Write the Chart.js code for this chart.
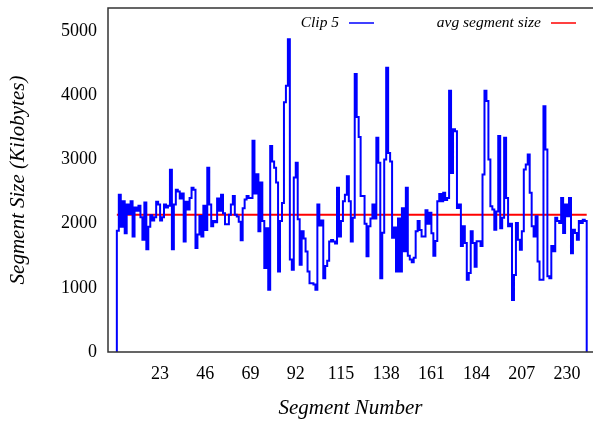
<!DOCTYPE html>
<html>
<head>
<meta charset="utf-8">
<script src="https://cdn.jsdelivr.net/npm/chart.js@4/dist/chart.umd.min.js"></script>
<style>
  html, body { margin: 0; padding: 0; overflow: hidden; background: #fff; }
</style>
</head>
<body>
<canvas id="segChart" width="593" height="424"></canvas>
<script>
// segment sizes (KB) for segments 1..239
const segmentSizes = [
    1890, 2450, 1950, 2350, 1850, 2300, 2150, 2350, 1800, 2250,
    2200, 2280, 2100, 1750, 2330, 1600, 1950, 2130, 2050, 2100,
    2340, 2300, 2050, 2100, 2300, 2250, 2280, 2840, 1600, 2300,
    2530, 2500, 2390, 2470, 1720, 2340, 2220, 2400, 2560, 2530,
    1620, 1830, 2120, 1800, 2280, 1900, 2870, 2300, 1960, 2040,
    2020, 2390, 2200, 2450, 2160, 1990, 1990, 2140, 2300, 2430,
    2140, 2110, 2030, 1740, 2240, 2375, 2430, 2400, 2400, 3290,
    2470, 2770, 1880, 2640, 2040, 1310, 1930, 970, 3210, 2970,
    2870, 2640, 1255, 2040, 2320, 3890, 4150, 4875, 1440, 1280,
    2720, 2950, 2070, 1360, 1880, 1770, 1565, 1255, 1070, 1070,
    1050, 970, 2300, 1970, 2050, 1150, 1340, 1420, 1720, 1745,
    1720, 1690, 2560, 1800, 2040, 2350, 2450, 2740, 2350, 1720,
    2090, 4330, 3660, 3350, 2430, 2430, 2000, 1490, 1960, 2080,
    2300, 2080, 3340, 2950, 1150, 1860, 3000, 4430, 3100, 2970,
    1780, 1940, 1255, 2080, 1255, 2240, 1570, 2560, 1500, 1440,
    1400, 1470, 1880, 2040, 1900, 1800, 1800, 2210, 2000, 2170,
    1850, 1500, 1730, 2350, 2460, 2350, 2480, 2370, 2400, 4070,
    2790, 3470, 3440, 2245, 2300, 1650, 1960, 1700, 1125, 1230,
    1880, 1700, 1330, 1725, 1725, 1650, 2765, 4070, 3910, 3000,
    2270, 2220, 1906, 2190, 3365, 1930, 2090, 3340, 2400, 1960,
    2000, 810, 1200, 2010, 1750, 1594, 1880, 2844, 2920, 3078,
    2480, 1960, 1800, 2115, 1412, 1125, 1125, 3830, 3156, 1180,
    1150, 1650, 1570, 2090, 2040, 2010, 2400, 1855, 2300, 2115,
    2400, 1540, 1906, 1855, 1750, 2040, 2010, 2060, 2040
];
const avgSegmentSize = 2140;
const xTickValues = [23, 46, 69, 92, 115, 138, 161, 184, 207, 230];
const yTickValues = [0, 1000, 2000, 3000, 4000, 5000];
const seriesNames = ['Clip 5', 'avg segment size'];
const seriesColors = ['#0000ff', '#ff0000'];

// step line: rises from 0 at the first segment, falls back to 0 after the last
const clipPoints = [{ x: 1, y: 0 }];
segmentSizes.forEach((v, i) => clipPoints.push({ x: i + 1, y: v }));
clipPoints.push({ x: segmentSizes.length + 1, y: 0 });

const avgPoints = [
    { x: 1, y: avgSegmentSize },
    { x: segmentSizes.length + 1, y: avgSegmentSize }
];

const serif = '"Liberation Serif", "DejaVu Serif", serif';

// left, top and bottom edges of the plot box (the right edge is off the picture)
const framePlugin = {
    id: 'frame',
    afterDatasetsDraw(chart) {
        const a = chart.chartArea;
        const ctx = chart.ctx;
        ctx.save();
        ctx.strokeStyle = '#333';
        ctx.lineWidth = 1.5;
        ctx.beginPath();
        ctx.moveTo(chart.width, a.top);
        ctx.lineTo(a.left, a.top);
        ctx.lineTo(a.left, a.bottom);
        ctx.lineTo(chart.width, a.bottom);
        ctx.stroke();
        ctx.restore();
    }
};

// gnuplot style key: text first, then a line sample
const keyPlugin = {
    id: 'key',
    afterDraw(chart) {
        const ctx = chart.ctx;
        const xs = [chart.chartArea.left + 231, chart.chartArea.left + 433];
        const y = 23;
        ctx.save();
        ctx.font = 'italic 15.5px ' + serif;
        ctx.textAlign = 'right';
        ctx.textBaseline = 'middle';
        ctx.fillStyle = '#000';
        seriesNames.forEach((name, i) => {
            ctx.fillText(name, xs[i], y);
            ctx.strokeStyle = seriesColors[i];
            ctx.lineWidth = 1.5;
            ctx.beginPath();
            ctx.moveTo(xs[i] + 10, y);
            ctx.lineTo(xs[i] + 35, y);
            ctx.stroke();
        });
        ctx.restore();
    }
};

const ctx = document.getElementById('segChart').getContext('2d');
new Chart(ctx, {
    type: 'line',
    data: {
        datasets: [{
            label: seriesNames[0],
            data: clipPoints,
            borderColor: seriesColors[0],
            borderWidth: 2,
            pointRadius: 0,
            stepped: true,
            fill: false
        }, {
            label: seriesNames[1],
            data: avgPoints,
            borderColor: seriesColors[1],
            borderWidth: 2,
            pointRadius: 0,
            fill: false
        }]
    },
    options: {
        responsive: false,
        animation: false,
        devicePixelRatio: 1,
        layout: { padding: { left: 0, right: 0, top: 8, bottom: 0 } },
        plugins: {
            legend: { display: false },
            tooltip: { enabled: false }
        },
        scales: {
            x: {
                type: 'linear',
                min: -3.5,
                max: 243.2,
                grid: { display: false, drawTicks: false },
                border: { display: false },
                afterBuildTicks: scale => {
                    scale.ticks = xTickValues.map(v => ({ value: v }));
                },
                afterFit: scale => {
                    scale.height = 72;
                    scale.paddingLeft = 0;
                    scale.paddingRight = 0;
                },
                ticks: {
                    color: '#000',
                    padding: 11,
                    maxRotation: 0,
                    callback: v => String(v),
                    font: { family: serif, size: 18 }
                },
                title: {
                    display: true,
                    text: 'Segment Number',
                    color: '#000',
                    font: { family: serif, size: 21, style: 'italic' },
                    padding: { top: 0, bottom: 3 }
                }
            },
            y: {
                min: 0,
                max: 5360,
                grid: { display: false, drawTicks: false },
                border: { display: false },
                afterBuildTicks: scale => {
                    scale.ticks = yTickValues.map(v => ({ value: v }));
                },
                afterFit: scale => {
                    scale.width = 108;
                    scale.paddingTop = 0;
                    scale.paddingBottom = 0;
                },
                ticks: {
                    color: '#000',
                    padding: 11,
                    callback: v => String(v),
                    font: { family: serif, size: 18 }
                },
                title: {
                    display: true,
                    text: 'Segment Size (Kilobytes)',
                    color: '#000',
                    font: { family: serif, size: 21, style: 'italic' },
                    padding: { top: 6, bottom: 0 }
                }
            }
        }
    },
    plugins: [framePlugin, keyPlugin]
});
</script>
</body>
</html>
